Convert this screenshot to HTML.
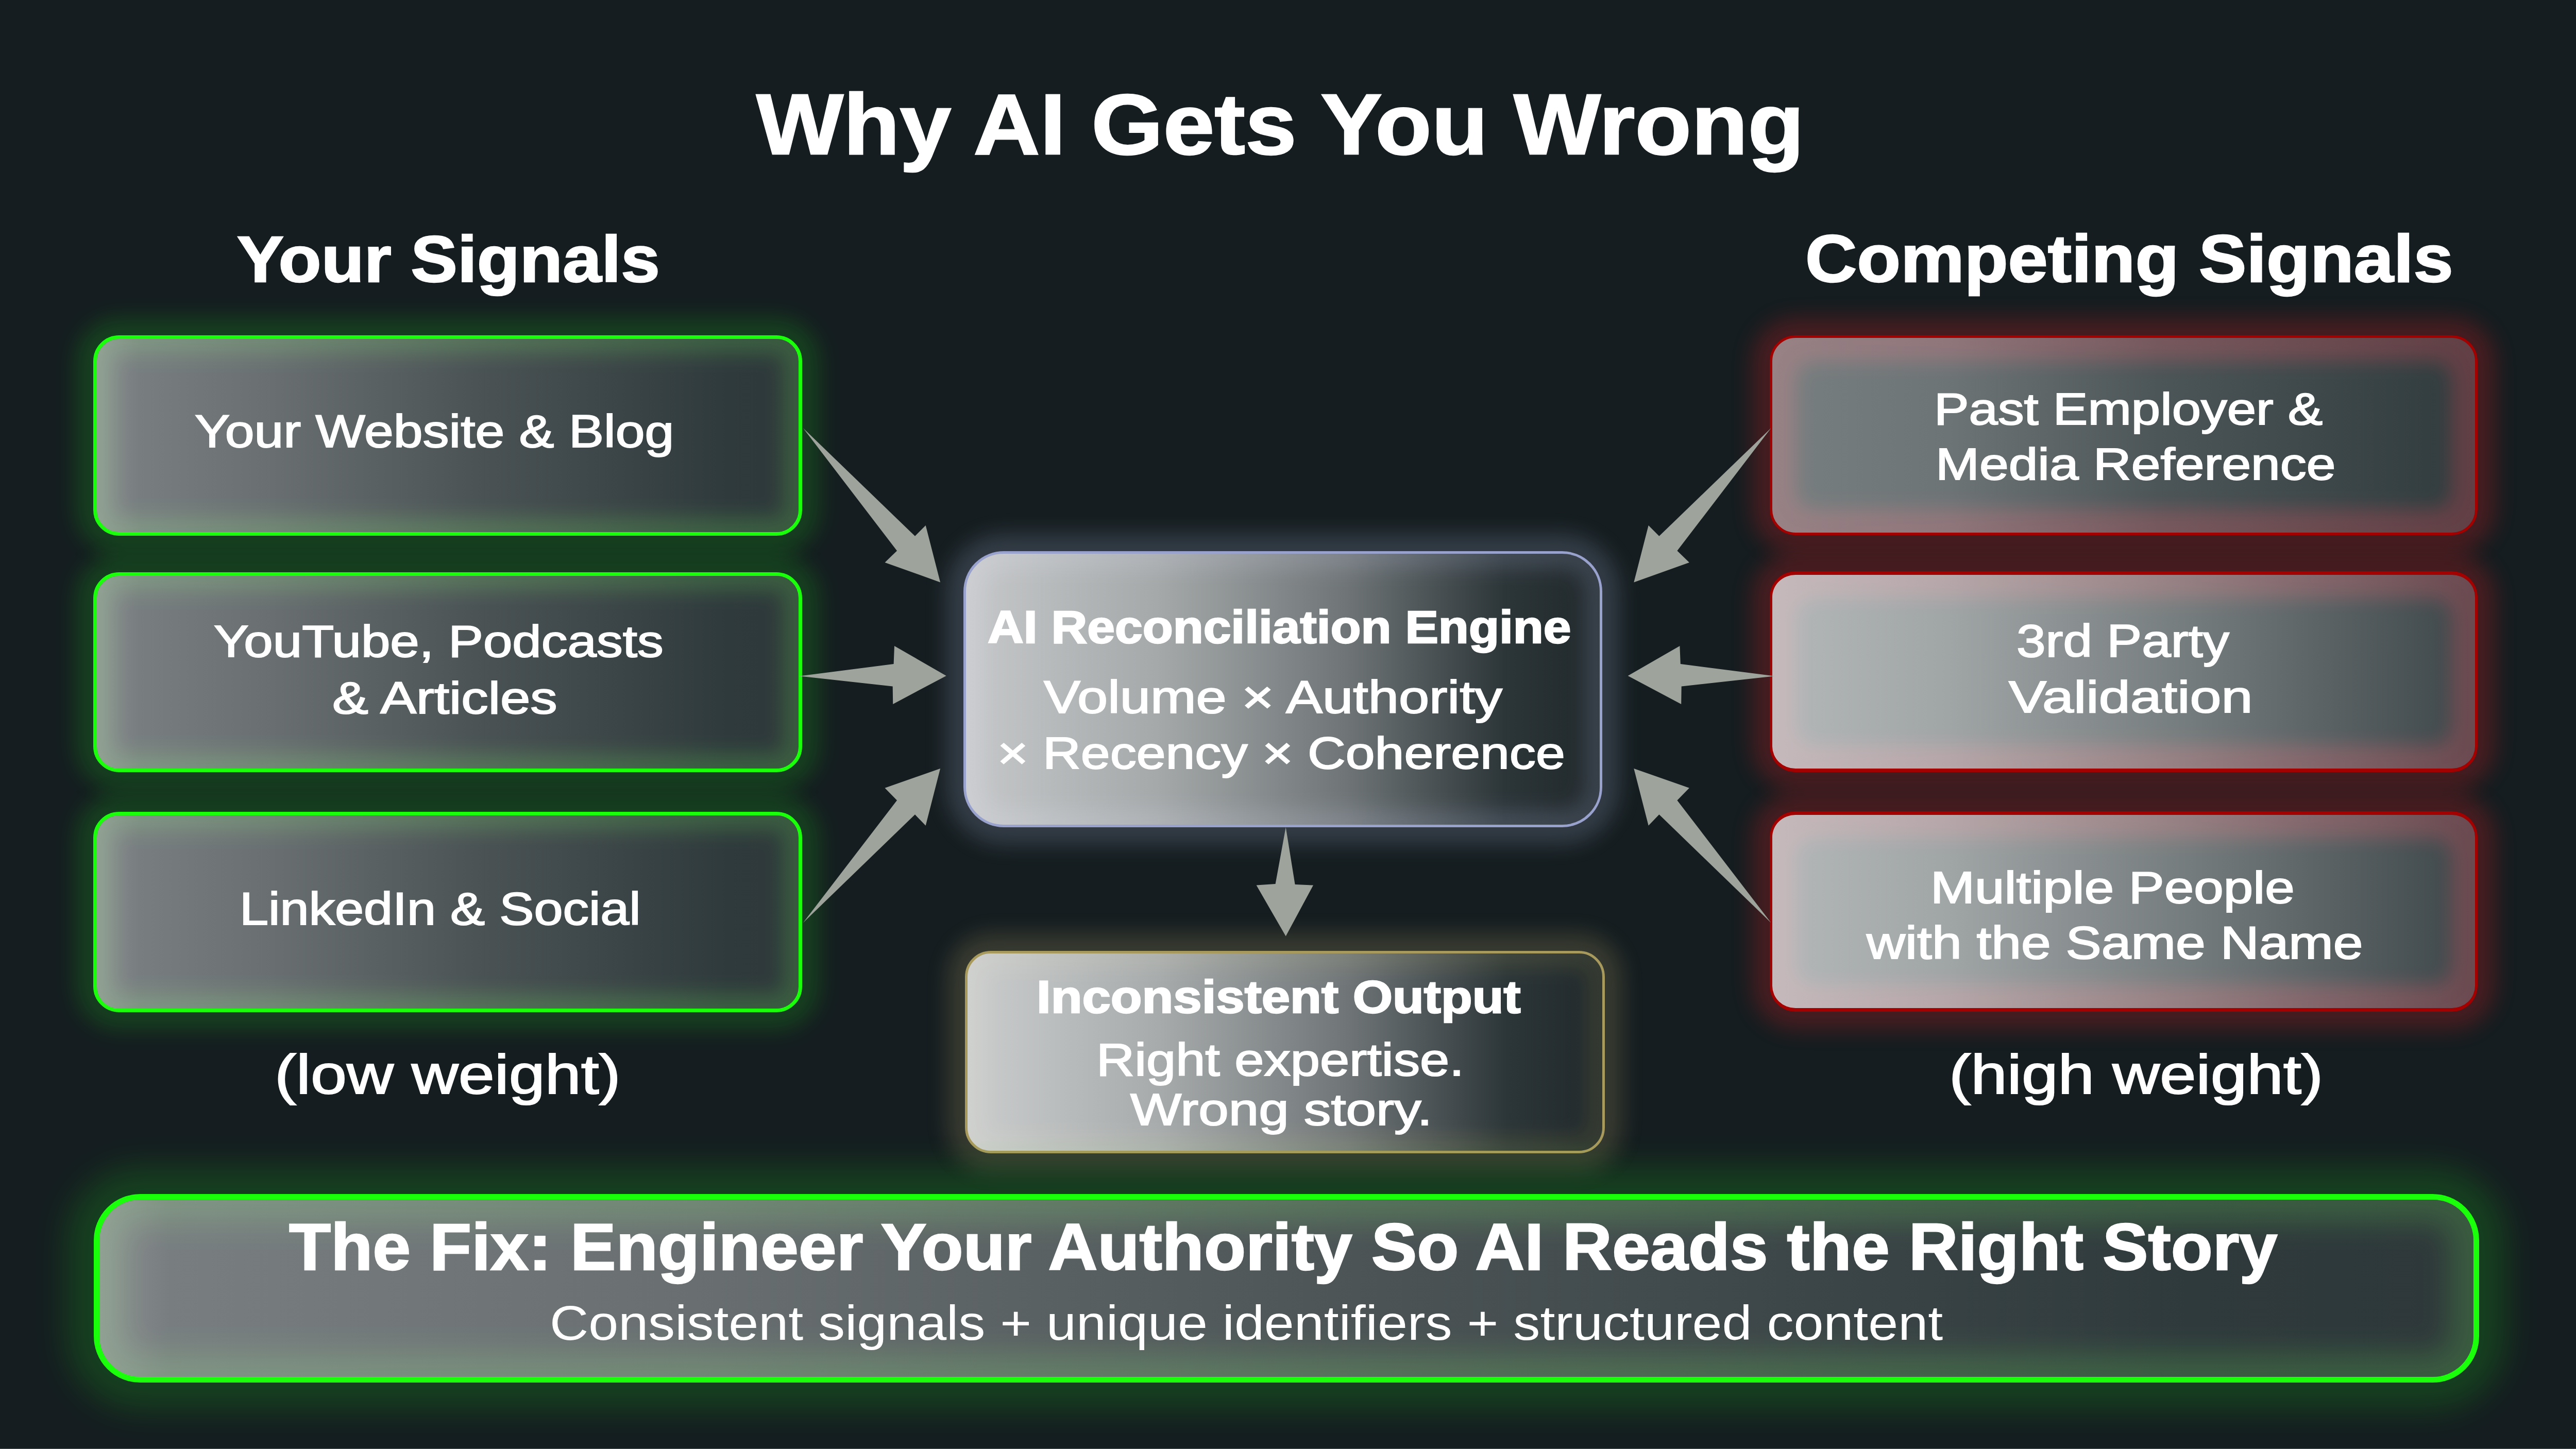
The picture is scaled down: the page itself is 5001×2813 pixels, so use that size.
<!DOCTYPE html>
<html><head><meta charset="utf-8"><title>Why AI Gets You Wrong</title>
<style>
html,body{margin:0;padding:0;background:#151d20;}
body{width:5001px;height:2813px;overflow:hidden;font-family:"Liberation Sans",sans-serif;}
#stage{position:relative;width:5001px;height:2813px;overflow:hidden;background:#151d20;}
.b{position:absolute;box-sizing:border-box;}
.ig{position:absolute;left:0;top:0;right:0;bottom:0;display:block;mix-blend-mode:screen;}
.t{position:absolute;white-space:nowrap;color:#fff;line-height:1;transform-origin:0 0;-webkit-text-stroke:2px #fff;}
.t.bd{font-weight:700;-webkit-text-stroke:2.5px #fff;}
.t.lt{-webkit-text-stroke:0;}
.ar{position:absolute;left:0;top:0;}
.g{border:7px solid #1aff0a;border-radius:50px;background:linear-gradient(90deg,#8a8e90 0%,#787e80 6%,#696f71 25%,#4a5254 55%,#2f3a3c 90%,#2e383a 100%);
   box-shadow:0 0 42px 34px rgba(30,255,30,0.155);}
.g .ig{border-radius:43px;box-shadow:inset 0 0 36px 30px rgb(15,46,8);}
.r{border:5px solid #a30000;border-radius:50px;box-shadow:0 0 42px 34px rgba(235,30,35,0.24);}
.r{overflow:hidden;}
.r .ig{left:-40px;top:-40px;right:-40px;bottom:-40px;border-radius:121px;box-shadow:inset 0 0 34px 86px rgb(60,5,10);}
.r1{background:linear-gradient(90deg,#787f80 0%,#6d7476 25%,#4c5557 55%,#303b3d 100%);}
.r2{border-width:7px 5px;background:linear-gradient(90deg,#b4b8b9 0%,#a0a5a6 25%,#747b7c 60%,#3d4649 100%);}
.c{border:5px solid #98a2cc;border-radius:78px;background:linear-gradient(90deg,#c6c8ca 0%,#a5a9aa 30%,#6f7577 60%,#2c3538 85%,#20282b 100%);
   box-shadow:0 0 42px 34px rgba(175,192,225,0.20);}
.c .ig{border-radius:73px;box-shadow:inset 0 0 36px 30px rgb(28,29,38);}
.o{border:5px solid #a8995c;border-radius:50px;background:linear-gradient(90deg,#cbcdcd 0%,#a7abac 30%,#6f7577 60%,#2c3538 85%,#20282b 100%);
   box-shadow:0 0 42px 34px rgba(230,205,130,0.17);}
.o .ig{border-radius:45px;box-shadow:inset 0 0 36px 30px rgb(24,22,7);}
.fix{border:11px solid #1aff0a;border-radius:90px;background:linear-gradient(90deg,#8a8e90 0%,#787e80 3%,#696f71 25%,#4a5254 55%,#2f3a3c 88%,#2e383a 100%);
   box-shadow:0 0 64px 52px rgba(30,255,30,0.16);}
.fix .ig{border-radius:79px;box-shadow:inset 0 0 54px 45px rgb(15,46,8);}
.edge-r{position:absolute;left:5000px;top:0;width:1px;height:2813px;background:#9a9c9c;}
.edge-b{position:absolute;left:0;top:2812px;width:5001px;height:1px;background:#50585a;}

</style></head>
<body>
<div id="stage">
<div class="b g" style="left:180.7px;top:650.8px;width:1376.2px;height:389.3px;"><i class="ig"></i></div>
<div class="b g" style="left:180.7px;top:1111.2px;width:1376.2px;height:388.1px;"><i class="ig"></i></div>
<div class="b g" style="left:180.7px;top:1575.5px;width:1376.2px;height:389.0px;"><i class="ig"></i></div>
<div class="b r r1" style="left:3435.3px;top:651.0px;width:1373.4px;height:388.0px;"><i class="ig"></i></div>
<div class="b r r2" style="left:3435.3px;top:1109.0px;width:1373.4px;height:390.0px;"><i class="ig"></i></div>
<div class="b r r2" style="left:3435.3px;top:1574.5px;width:1373.4px;height:389.7px;"><i class="ig"></i></div>
<div class="b c" style="left:1870.1px;top:1069.8px;width:1240.4px;height:536.2px;"><i class="ig"></i></div>
<div class="b o" style="left:1873.1px;top:1846.0px;width:1242.1px;height:393.0px;"><i class="ig"></i></div>
<div class="b fix" style="left:181.6px;top:2317.6px;width:4630.1px;height:366.4px;"><i class="ig"></i></div>
<svg class="ar" width="5001" height="2813" viewBox="0 0 5001 2813"><g fill="#9ea49c"><polygon points="1558.8,831.1 1776.0,1040.8 1796.7,1020.1 1825.1,1130.5 1717.5,1091.9 1741.0,1069.3"/><polygon points="1551.9,1312.5 1734.6,1289.0 1736.0,1254.0 1836.7,1311.9 1733.2,1366.9 1732.7,1332.6"/><polygon points="1558.8,1791.4 1741.0,1553.7 1717.5,1529.7 1825.1,1491.9 1796.7,1602.8 1776.0,1581.3"/><polygon points="3437.6,831.1 3220.4,1040.8 3199.7,1020.1 3171.3,1130.5 3278.9,1091.9 3255.4,1069.3"/><polygon points="3444.5,1312.5 3261.8,1289.0 3260.4,1254.0 3159.7,1311.9 3263.2,1366.9 3263.7,1332.6"/><polygon points="3437.6,1791.4 3255.4,1553.7 3278.9,1529.7 3171.3,1491.9 3199.7,1602.8 3220.4,1581.3"/><polygon points="2495.7,1606.0 2475.6,1715.9 2438.6,1718.6 2495.7,1817.5 2549.0,1718.6 2513.6,1717.0"/></g></svg>
<div class="t bd" style="left:1468.2px;top:158.0px;font-size:166.3px;transform:scaleX(1.0774)">Why AI Gets You Wrong</div>
<div class="t bd" style="left:460.1px;top:440.2px;font-size:126.7px;transform:scaleX(1.0731)">Your Signals</div>
<div class="t bd" style="left:3503.7px;top:437.7px;font-size:129.4px;transform:scaleX(1.0736)">Competing Signals</div>
<div class="t" style="left:378.2px;top:792.8px;font-size:89.4px;transform:scaleX(1.1415)">Your Website &amp; Blog</div>
<div class="t" style="left:415.3px;top:1201.0px;font-size:87.9px;transform:scaleX(1.1547)">YouTube, Podcasts</div>
<div class="t" style="left:645.2px;top:1311.9px;font-size:86.5px;transform:scaleX(1.2111)">&amp; Articles</div>
<div class="t" style="left:465.2px;top:1720.3px;font-size:89.0px;transform:scaleX(1.1324)">LinkedIn &amp; Social</div>
<div class="t" style="left:532.9px;top:2032.7px;font-size:107.1px;transform:scaleX(1.1754)">(low weight)</div>
<div class="t bd" style="left:1917.0px;top:1174.3px;font-size:88.1px;transform:scaleX(1.0965)">AI Reconciliation Engine</div>
<div class="t" style="left:2026.4px;top:1308.5px;font-size:89.2px;transform:scaleX(1.1926)">Volume × Authority</div>
<div class="t" style="left:1935.5px;top:1418.1px;font-size:87.9px;transform:scaleX(1.1624)">× Recency × Coherence</div>
<div class="t bd" style="left:2012.2px;top:1892.0px;font-size:88.5px;transform:scaleX(1.1243)">Inconsistent Output</div>
<div class="t" style="left:2127.9px;top:2013.6px;font-size:88.4px;transform:scaleX(1.1621)">Right expertise.</div>
<div class="t" style="left:2194.3px;top:2111.4px;font-size:86.9px;transform:scaleX(1.2096)">Wrong story.</div>
<div class="t" style="left:3754.2px;top:749.8px;font-size:87.2px;transform:scaleX(1.1619)">Past Employer &amp;</div>
<div class="t" style="left:3756.9px;top:858.2px;font-size:86.2px;transform:scaleX(1.1831)">Media Reference</div>
<div class="t" style="left:3913.7px;top:1200.6px;font-size:88.7px;transform:scaleX(1.1471)">3rd Party</div>
<div class="t" style="left:3899.3px;top:1310.1px;font-size:87.8px;transform:scaleX(1.2491)">Validation</div>
<div class="t" style="left:3747.3px;top:1680.3px;font-size:86.2px;transform:scaleX(1.1991)">Multiple People</div>
<div class="t" style="left:3622.5px;top:1786.8px;font-size:88.4px;transform:scaleX(1.1745)">with the Same Name</div>
<div class="t" style="left:3783.0px;top:2032.8px;font-size:106.7px;transform:scaleX(1.1890)">(high weight)</div>
<div class="t bd" style="left:561.1px;top:2357.3px;font-size:128.5px;transform:scaleX(1.0336)">The Fix: Engineer Your Authority So AI Reads the Right Story</div>
<div class="t lt" style="left:1067.0px;top:2520.9px;font-size:94.6px;transform:scaleX(1.1012)">Consistent signals + unique identifiers + structured content</div>
<div class="edge-r"></div><div class="edge-b"></div>
</div>
</body></html>
